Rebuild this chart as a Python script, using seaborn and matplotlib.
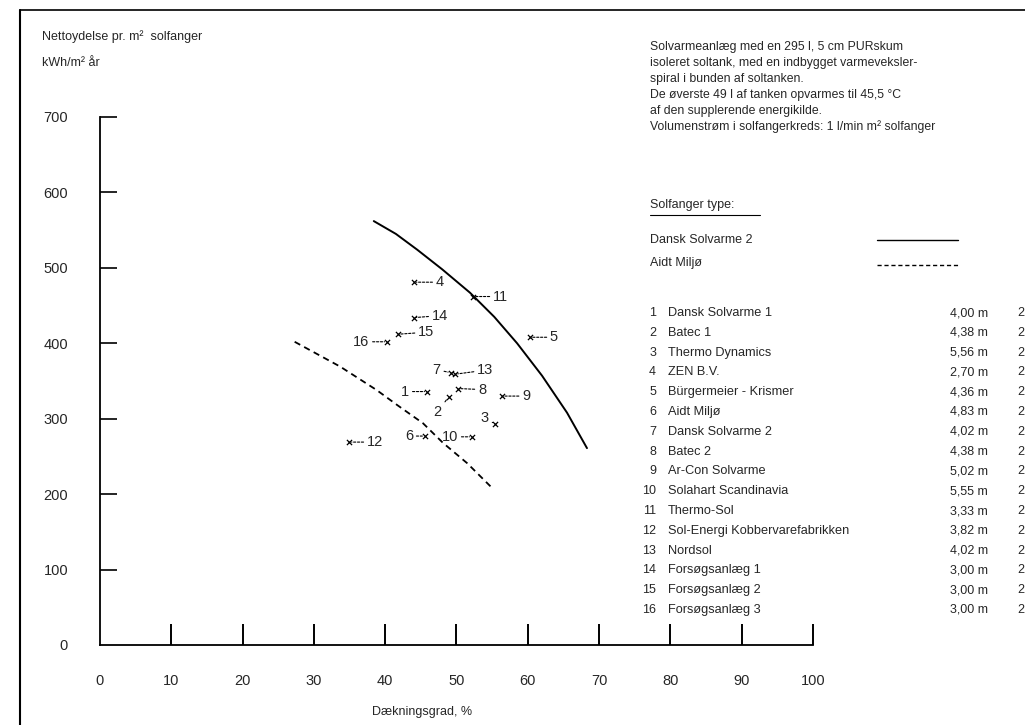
import matplotlib
matplotlib.use("Agg")
import matplotlib.pyplot as plt
import pandas as pd
import seaborn as sns
from matplotlib.lines import Line2D


# curves
solid_x = [38.4, 41.5, 44.5, 48.0, 51.9, 55.3, 58.5, 62.0, 65.5, 68.3]
solid_y = [562, 545, 524, 498, 467, 435, 400, 357, 308, 261]
dashed_x = [27.3, 33.7, 38.8, 41.7, 45.3, 48.1, 51.5, 54.8]
dashed_y = [402, 369, 338, 318, 294, 268, 241, 210]

# measured systems
point_ids = [1, 2, 3, 4, 5, 6, 7, 8, 9, 10, 11, 12, 13, 14, 15, 16]
point_x = [45.9, 48.9, 55.4, 44.0, 60.3, 45.6, 49.2, 50.2, 56.4, 52.2, 52.3, 34.9, 49.8, 44.0, 41.8, 40.3]
point_y = [336, 329, 293, 481, 408, 277, 361, 340, 330, 276, 462, 269, 359, 434, 412, 402]

names = [
    "Dansk Solvarme 1", "Batec 1", "Thermo Dynamics", "ZEN B.V.",
    "Bürgermeier - Krismer", "Aidt Miljø", "Dansk Solvarme 2", "Batec 2",
    "Ar-Con Solvarme", "Solahart Scandinavia", "Thermo-Sol",
    "Sol-Energi Kobbervarefabrikken", "Nordsol", "Forsøgsanlæg 1",
    "Forsøgsanlæg 2", "Forsøgsanlæg 3",
]
areas = ["4,00 m", "4,38 m", "5,56 m", "2,70 m", "4,36 m", "4,83 m", "4,02 m", "4,38 m",
         "5,02 m", "5,55 m", "3,33 m", "3,82 m", "4,02 m", "3,00 m", "3,00 m", "3,00 m"]

x_ticks = [0, 10, 20, 30, 40, 50, 60, 70, 80, 90, 100]
y_ticks = [0, 100, 200, 300, 400, 500, 600, 700]

info_lines = [
    "Solvarmeanlæg med en 295 l, 5 cm PURskum",
    "isoleret soltank, med en indbygget varmeveksler-",
    "spiral i bunden af soltanken.",
    "De øverste 49 l af tanken opvarmes til 45,5 °C",
    "af den supplerende energikilde.",
    "Volumenstrøm i solfangerkreds: 1 l/min m² solfanger",
]

# label placement relative to each marker (pixels)
label_off = {
    1: (-18, 0, "right"), 2: (-11, -15, "center"), 3: (-6, 6, "right"),
    4: (22, 0, "left"), 5: (20, 0, "left"), 6: (-12, 0, "right"),
    7: (-10, 3, "right"), 8: (20, -1, "left"), 9: (20, 0, "left"),
    10: (-14, 0, "right"), 11: (20, 0, "left"), 12: (18, 0, "left"),
    13: (22, 4, "left"), 14: (18, 2, "left"), 15: (20, 2, "left"),
    16: (-18, 0, "right"),
}

sns.set_style("white")
plt.rcParams["font.family"] = ["Liberation Sans", "DejaVu Sans"]

fig = plt.figure(figsize=(10.25, 7.25), dpi=100)
W, H = 1025, 725
ax = fig.add_axes([100 / W, (H - 645) / H, 713 / W, 528 / H])

solid_df = pd.DataFrame({"x": solid_x, "y": solid_y})
dashed_df = pd.DataFrame({"x": dashed_x, "y": dashed_y})
pts_df = pd.DataFrame({"id": point_ids, "x": point_x, "y": point_y})

sns.lineplot(data=solid_df, x="x", y="y", sort=False, color="black", lw=1.4, ax=ax)
sns.lineplot(data=dashed_df, x="x", y="y", sort=False, color="black", lw=1.3,
             linestyle=(0, (3.5, 2.5)), ax=ax)
sns.scatterplot(data=pts_df, x="x", y="y", marker="x", s=14, color="black",
                linewidth=0.9, ax=ax)

for pid, px, py in zip(point_ids, point_x, point_y):
    dx, dy, ha = label_off[pid]
    ax.annotate(str(pid), xy=(px, py), xytext=(dx, dy), textcoords="offset pixels",
                ha=ha, va="center", fontsize=10.5,
                arrowprops=dict(arrowstyle="-", lw=0.8, linestyle=(0, (2, 1.5)),
                                color="black", shrinkA=0, shrinkB=2))

ax.set_xlim(0, 100)
ax.set_ylim(0, 700)
ax.set_xticks(x_ticks)
ax.set_yticks(y_ticks)
ax.set_xlabel("")
ax.set_ylabel("")
for side in ["top", "right"]:
    ax.spines[side].set_visible(False)
for side in ["left", "bottom"]:
    ax.spines[side].set_linewidth(1.3)
    ax.spines[side].set_color("black")
ax.tick_params(axis="x", bottom=True, direction="in", length=15, width=1.4, pad=21,
               labelsize=10.5, color="black")
ax.tick_params(axis="y", left=True, direction="in", length=12, width=1.2, pad=23,
               labelsize=10.5, color="black")
ax.yaxis.get_major_ticks()[0].tick1line.set_visible(False)
ax.xaxis.get_major_ticks()[0].tick1line.set_visible(False)

# axis titles
fig.text(42 / W, 1 - 37 / H, "Nettoydelse pr. m²  solfanger", fontsize=9, va="center")
fig.text(42 / W, 1 - 63 / H, "kWh/m² år", fontsize=9, va="center")
fig.text(422 / W, 1 - 712 / H, "Dækningsgrad, %", fontsize=9, ha="center", va="center")

# description block
for i, line in enumerate(info_lines):
    fig.text(650 / W, 1 - (47 + i * 16) / H, line, fontsize=8.8, va="center")

fig.text(650 / W, 1 - 205 / H, "Solfanger type:", fontsize=9, va="center")
fig.add_artist(Line2D([650 / W, 760 / W], [1 - 215 / H, 1 - 215 / H], color="black", lw=0.8))
fig.text(650 / W, 1 - 240 / H, "Dansk Solvarme 2", fontsize=9, va="center")
fig.add_artist(Line2D([877 / W, 958 / W], [1 - 240 / H, 1 - 240 / H], color="black", lw=1.0))
fig.text(650 / W, 1 - 263 / H, "Aidt Miljø", fontsize=9, va="center")
fig.add_artist(Line2D([877 / W, 958 / W], [1 - 265 / H, 1 - 265 / H], color="black", lw=1.0,
                      linestyle=(0, (3, 2))))

# numbered list
for i, (name, area) in enumerate(zip(names, areas)):
    y = 1 - (313 + i * 19.8) / H
    fig.text(656 / W, y, str(i + 1), fontsize=9, ha="right", va="center")
    fig.text(668 / W, y, name, fontsize=9.2, va="center")
    fig.text(988 / W, y, area, fontsize=9, ha="right", va="center")
    fig.text(1017 / W, y, "2", fontsize=9, va="center")

# page border of the scan
fig.add_artist(Line2D([20 / W, 20 / W], [0, 1 - 10 / H], color="black", lw=1.5))
fig.add_artist(Line2D([20 / W, 1], [1 - 10 / H, 1 - 10 / H], color="black", lw=1.2))

fig.savefig("out.png", dpi=100)
